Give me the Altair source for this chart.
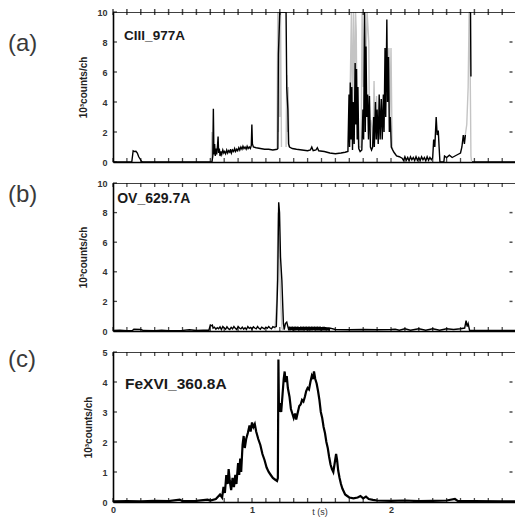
import altair as alt
import pandas as pd

XMAX = 2.892
W = 402
FONT = "Liberation Sans"

# ---------------- (a) CIII_977A ----------------
a_blk1_t = [0, 0.135, 0.145, 0.155, 0.165, 0.175, 0.185, 0.195, 0.205, 0.215, 0.70, 0.712, 0.718, 0.722,
            0.726, 0.731, 0.736, 0.741, 0.746, 0.752, 0.756, 0.760, 0.765, 0.770, 0.776, 0.782, 0.790,
            0.797, 0.803, 0.810, 0.818, 0.825, 0.832, 0.840, 0.846, 0.852, 0.860, 0.868, 0.875, 0.882,
            0.890, 0.897, 0.905, 0.912, 0.920, 0.928, 0.935, 0.942, 0.950, 0.958, 0.965, 0.972, 0.980,
            0.988, 0.995, 0.999, 1.003, 1.01, 1.03, 1.06, 1.09, 1.12, 1.15, 1.18, 1.186, 1.19, 1.20, 1.245,
            1.25, 1.258, 1.263, 1.27, 1.29, 1.32, 1.36, 1.40, 1.42, 1.43, 1.44, 1.46, 1.47, 1.48, 1.52,
            1.56, 1.60, 1.64, 1.67, 1.690, 1.698, 1.702, 1.707, 1.712, 1.718, 1.723, 1.728, 1.735, 1.742,
            1.747, 1.752, 1.757, 1.762, 1.768, 1.778, 1.790, 1.798, 1.803, 1.810, 1.815, 1.820, 1.826,
            1.832, 1.838, 1.845, 1.852, 1.860, 1.868, 1.875, 1.880, 1.888, 1.894, 1.900, 1.908, 1.915,
            1.922, 1.930, 1.937, 1.945, 1.950, 1.957, 1.962, 1.970, 1.975, 1.982, 1.988, 1.995, 2.002,
            2.012, 2.025, 2.040, 2.060, 2.080, 2.09, 2.10, 2.11, 2.12, 2.13, 2.14, 2.15, 2.16, 2.17, 2.18,
            2.19, 2.20, 2.21, 2.22, 2.23, 2.24, 2.25, 2.26, 2.27, 2.28, 2.29, 2.30, 2.307, 2.315, 2.325,
            2.332, 2.340, 2.346, 2.352, 2.38, 2.385, 2.40, 2.42, 2.44, 2.46, 2.48, 2.50, 2.51, 2.52, 2.528,
            2.535]
a_blk1_v = [0, 0, 0.75, 0.7, 0.72, 0.6, 0.35, 0.2, 0.05, 0, 0, 0.0, 0.4, 3.55,
            0.5, 1.2, 0.4, 0.9, 0.5, 1.1, 1.7, 0.6, 0.9, 0.4, 0.7, 0.5, 0.8,
            0.6, 0.7, 0.55, 0.8, 0.6, 0.75, 0.65, 0.85, 0.6, 0.8, 0.7, 0.9, 0.7,
            0.85, 0.75, 0.95, 0.8, 1.0, 0.85, 1.05, 0.9, 1.0, 0.85, 1.05, 0.9, 1.0,
            0.9, 1.1, 2.5, 1.2, 1.0, 0.95, 0.9, 0.85, 0.85, 0.8, 0.85, 0.9, 7.2, 10, 10,
            4.9, 3.5, 1.2, 1.0, 0.9, 0.85, 0.8, 0.75, 0.8, 1.0, 0.75, 0.8, 0.95, 0.75, 0.7,
            0.6, 0.55, 0.6, 0.65, 0.7, 4.5, 1.0, 5.3, 1.5, 5.0, 0.8, 4.0, 1.2, 6.6,
            2.5, 6.2, 1.5, 5.0, 0.9, 0.7, 0.8, 3.5, 1.5, 10, 2.0, 7.7, 3.0,
            4.5, 1.5, 4.4, 1.0, 0.8, 1.0, 3.0, 1.0, 4.0, 1.5, 3.5, 1.2, 4.5,
            1.5, 4.2, 1.5, 4.5, 2.0, 7.6, 3.0, 9.5, 4.0, 7.0, 2.0, 3.0, 1.0,
            0.8, 0.6, 0.4, 0.35, 0.25, 0.1, 0.35, 0.12, 0.3, 0.08, 0.35, 0.15, 0.3, 0.1, 0.35,
            0.12, 0.3, 0.1, 0.35, 0.15, 0.3, 0.08, 0.35, 0.12, 0.3, 0.15, 0.3, 1.5, 1.0, 3.0,
            1.8, 2.1, 1.0, 0.0, 0.0, 0.4, 0.3, 0.45, 0.3, 0.4, 0.5, 0.6, 1.0, 1.8, 1.2,
            1.8]
a_blk2_t = [2.562, 2.572, 2.575]
a_blk2_v = [10, 10, 5.7]
a_blk3_t = [2.582, 2.892]
a_blk3_v = [0, 0]

a_gry1_t = [0.706, 0.712, 0.716]
a_gry1_v = [0.0, 2.0, 0.3]
a_gry2_t = [1.18, 1.185, 1.19, 1.195, 1.20, 1.205, 1.212]
a_gry2_v = [0.9, 10, 2.0, 10, 3.0, 10, 1.0]
a_gry3_t = [1.245, 1.25, 1.255, 1.26, 1.266]
a_gry3_v = [1.0, 5.8, 2.0, 5.0, 1.0]
a_gry4_t = [1.700, 1.715, 1.722, 1.730, 1.738, 1.745, 1.750, 1.755, 1.765, 1.785, 1.792, 1.800, 1.808,
            1.818, 1.828, 1.840, 1.845, 1.855, 1.862, 1.870, 1.878, 1.885, 1.896, 1.905, 1.930, 1.955,
            1.965, 1.985, 1.992, 2.000, 2.008, 2.020]
a_gry4_v = [1.0, 10, 3.0, 10, 4.0, 10, 8.7, 3.0, 1.0, 1.0, 10, 5.0, 10,
            6.0, 10, 8.0, 2.3, 2.8, 2.3, 1.0, 5.4, 2.0, 4.4, 1.5, 2.5, 3.5,
            5.0, 7.6, 3.0, 7.6, 1.0, 0.6]
a_gry5_t = [2.53, 2.545, 2.555, 2.562, 2.570, 2.575, 2.580]
a_gry5_v = [1.5, 2.5, 5.0, 10, 5.7, 0.4, 0.0]

# ---------------- (b) OV_629.7A ----------------
b_blk_t = [0, 0.05, 0.10, 0.14, 0.15, 0.20, 0.22, 0.30, 0.35, 0.40, 0.50, 0.55, 0.60, 0.65, 0.69, 0.70,
           0.705, 0.715, 0.72, 0.73, 0.74, 0.75, 0.76, 0.77, 0.78, 0.79, 0.80, 0.81, 0.82, 0.83, 0.84,
           0.85, 0.86, 0.87, 0.88, 0.89, 0.90, 0.91, 0.92, 0.93, 0.94, 0.95, 0.96, 0.97, 0.98, 0.99,
           1.00, 1.01, 1.02, 1.03, 1.04, 1.05, 1.06, 1.07, 1.08, 1.09, 1.10, 1.11, 1.12, 1.13, 1.14,
           1.15, 1.16, 1.175, 1.185, 1.192, 1.198, 1.205, 1.215, 1.222, 1.226, 1.232, 1.24, 1.25, 1.258,
           1.265, 1.270, 1.275, 1.280, 1.285, 1.290, 1.295, 1.300, 1.305, 1.310, 1.315, 1.320, 1.325,
           1.330, 1.335, 1.340, 1.345, 1.350, 1.355, 1.360, 1.365, 1.370, 1.375, 1.380, 1.385, 1.390,
           1.395, 1.400, 1.405, 1.410, 1.415, 1.420, 1.425, 1.430, 1.435, 1.440, 1.445, 1.450, 1.455,
           1.460, 1.465, 1.470, 1.475, 1.480, 1.485, 1.490, 1.495, 1.500, 1.505, 1.510, 1.515, 1.520,
           1.525, 1.530, 1.535, 1.540, 1.545, 1.550, 1.555, 1.560, 1.60, 1.70, 1.80, 1.90, 2.00, 2.03,
           2.06, 2.10, 2.14, 2.20, 2.25, 2.30, 2.35, 2.40, 2.45, 2.50, 2.53, 2.54, 2.548, 2.555, 2.565,
           2.70, 2.892]
b_blk_v = [0.03, 0.05, 0.02, 0.03, 0.12, 0.10, 0.03, 0.02, 0.06, 0.02, 0.04, 0.08, 0.03, 0.05, 0.05, 0.4,
           0.35, 0.4, 0.2, 0.26, 0.12, 0.22, 0.15, 0.28, 0.1, 0.3, 0.2, 0.12, 0.28, 0.16, 0.1,
           0.25, 0.15, 0.3, 0.18, 0.1, 0.3, 0.2, 0.14, 0.26, 0.12, 0.22, 0.1, 0.3, 0.18, 0.24,
           0.12, 0.28, 0.2, 0.15, 0.3, 0.18, 0.12, 0.26, 0.2, 0.14, 0.25, 0.18, 0.3, 0.2, 0.15,
           0.3, 0.25, 0.3, 3.5, 8.7, 8.0, 5.0, 3.4, 1.5, 0.5, 0.1, 0.5, 0.6, 0.3,
           0.05, 0.3, 0.04, 0.28, 0.06, 0.3, 0.03, 0.27, 0.05, 0.3, 0.04, 0.28, 0.06,
           0.3, 0.03, 0.26, 0.05, 0.3, 0.04, 0.28, 0.05, 0.3, 0.03, 0.27, 0.06, 0.3,
           0.04, 0.28, 0.05, 0.3, 0.03, 0.27, 0.05, 0.3, 0.04, 0.28, 0.06, 0.3, 0.03,
           0.27, 0.05, 0.3, 0.04, 0.28, 0.05, 0.3, 0.03, 0.26, 0.05, 0.28, 0.04, 0.27,
           0.05, 0.26, 0.03, 0.25, 0.05, 0.24, 0.04, 0.2, 0.1, 0.08, 0.1, 0.08, 0.1, 0.12,
           0.05, 0.15, 0.05, 0.15, 0.05, 0.15, 0.05, 0.15, 0.1, 0.15, 0.2, 0.7, 0.3, 0.5, 0.05,
           0.04, 0.03]
b_gry_t = [1.165, 1.178, 1.188, 1.195, 1.205, 1.215, 1.225, 1.235]
b_gry_v = [0.1, 2.0, 8.0, 6.0, 2.5, 0.2, 0.0, 0.3]

# ---------------- (c) FeXVI_360.8A ----------------
c_blk_t = [0.0, 0.1, 0.2, 0.3, 0.4, 0.48, 0.5, 0.6, 0.68, 0.70, 0.74, 0.77, 0.785, 0.795, 0.805, 0.815,
           0.825, 0.832, 0.84, 0.85, 0.86, 0.87, 0.88, 0.888, 0.90, 0.908, 0.915, 0.922, 0.932, 0.94,
           0.948, 0.958, 0.97, 0.982, 0.99, 1.00, 1.01, 1.02, 1.03, 1.045, 1.06, 1.075, 1.09, 1.105, 1.12,
           1.135, 1.15, 1.165, 1.18, 1.186, 1.19, 1.194, 1.20, 1.21, 1.22, 1.228, 1.235, 1.242, 1.25,
           1.258, 1.27, 1.28, 1.29, 1.30, 1.31, 1.318, 1.33, 1.34, 1.35, 1.36, 1.37, 1.38, 1.39, 1.40,
           1.41, 1.42, 1.43, 1.438, 1.446, 1.455, 1.465, 1.475, 1.485, 1.495, 1.505, 1.515, 1.525, 1.535,
           1.545, 1.555, 1.565, 1.575, 1.585, 1.595, 1.605, 1.612, 1.62, 1.63, 1.64, 1.65, 1.66, 1.67,
           1.685, 1.70, 1.73, 1.76, 1.78, 1.80, 1.82, 1.84, 1.87, 1.90, 2.00, 2.10, 2.20, 2.30, 2.40,
           2.46, 2.48, 2.60, 2.80, 2.892]
c_blk_v = [0.02, 0.03, 0.02, 0.04, 0.03, 0.08, 0.03, 0.04, 0.08, 0.05, 0.1, 0.25, 0.15, 0.5, 0.3, 0.9,
           0.6, 1.1, 0.7, 0.4, 0.8, 0.5, 0.9, 0.6, 1.3, 0.9, 1.45, 1.0, 1.9, 2.2,
           1.8, 2.1, 2.3, 2.55, 2.35, 2.65, 2.5, 2.6, 2.35, 2.1, 1.9, 1.6, 1.4, 1.15, 1.0,
           0.9, 0.8, 0.75, 0.7, 0.8, 4.75, 3.0, 3.3, 3.0, 3.6, 4.1, 4.35, 4.0, 4.2,
           3.8, 3.5, 3.1, 2.95, 2.8, 2.95, 2.75, 3.0, 3.2, 3.25, 3.4, 3.35, 3.5, 3.7, 3.8,
           3.75, 4.0, 4.2, 4.1, 4.35, 4.1, 3.95, 3.7, 3.4, 3.0, 2.8, 2.5, 2.3, 2.0,
           1.8, 1.5, 1.25, 1.1, 1.0, 1.3, 1.6, 1.4, 1.05, 0.8, 0.6, 0.45, 0.35, 0.25,
           0.2, 0.15, 0.12, 0.15, 0.2, 0.12, 0.18, 0.1, 0.07, 0.05, 0.04, 0.05, 0.03, 0.04, 0.05,
           0.1, 0.04, 0.03, 0.02, 0.02]

minor_t = [round(i * 0.1, 1) for i in range(29)]


def segs(*pairs):
    rows = []
    for k, (ts, vs) in enumerate(pairs):
        for t, v in zip(ts, vs):
            rows.append({"t": t, "v": v, "seg": k})
    return pd.DataFrame(rows)


def panel(black, grey, ymax, yvals, name, name_t, name_v, name_size, letter, letter_y, height, last,
          cross_top, lw):
    xs = alt.Scale(domain=[0, XMAX], nice=False, zero=False)
    ys = alt.Scale(domain=[0, ymax], nice=False)
    if last:
        xax = alt.Axis(values=[0, 1, 2], ticks=False, tickSize=0, grid=False, domainWidth=1.6,
                       domainColor="black", labelPadding=3, labelFontSize=9, labelFontWeight="bold",
                       labelColor="#333", title=None, labelFlush=False)
    else:
        xax = alt.Axis(values=[0, 1, 2], ticks=False, tickSize=0, grid=False, domainWidth=1.6,
                       domainColor="black", labels=False, title=None)
    yax = alt.Axis(values=yvals, ticks=False, tickSize=0, grid=False, domainWidth=1.6, domainColor="black",
                   labelPadding=6, labelFontSize=9, labelFontWeight="bold", labelColor="#333",
                   title="10³counts/ch", titleFontSize=10, titleFontWeight="bold", titleColor="#222",
                   titlePadding=8)
    X = alt.X("t:Q", scale=xs, axis=xax)
    Y = alt.Y("v:Q", scale=ys, axis=yax)

    grey_l = alt.Chart(grey).mark_line(color="#c4c4c4", strokeWidth=1.4, clip=True).encode(
        x=X, y=Y, detail="seg:N", order="t:Q")
    black_l = alt.Chart(black).mark_line(color="black", strokeWidth=lw, clip=True).encode(
        x=X, y=Y, detail="seg:N", order="t:Q")
    top = alt.Chart(pd.DataFrame({"t": [0, XMAX], "v": [ymax, ymax]})).mark_line(
        color="black", strokeWidth=1.6, clip=True).encode(x=X, y=Y)

    bt = alt.Chart(pd.DataFrame({"t": minor_t, "v": [0] * len(minor_t)})).mark_tick(
        orient="vertical", size=4, thickness=1.3, color="black", yOffset=-2).encode(x=X, y=Y)
    if cross_top:
        tt = alt.Chart(pd.DataFrame({"t": minor_t, "v": [ymax] * len(minor_t)})).mark_tick(
            orient="vertical", size=6, thickness=1.5, color="black").encode(x=X, y=Y)
    else:
        tt = alt.Chart(pd.DataFrame({"t": minor_t, "v": [ymax] * len(minor_t)})).mark_tick(
            orient="vertical", size=4, thickness=1.3, color="black", yOffset=2).encode(x=X, y=Y)
    lt = alt.Chart(pd.DataFrame({"t": [0] * len(yvals), "v": yvals})).mark_tick(
        orient="horizontal", size=4, thickness=1.3, color="black", xOffset=2).encode(x=X, y=Y)
    inner = yvals[1:-1]
    rt = alt.Chart(pd.DataFrame({"t": [XMAX] * len(inner), "v": inner})).mark_tick(
        orient="horizontal", size=3, thickness=1.5, color="black", xOffset=-4).encode(x=X, y=Y)

    lab = alt.Chart(pd.DataFrame({"t": [name_t], "v": [name_v], "s": [name]})).mark_text(
        align="left", baseline="middle", fontSize=name_size, fontWeight="bold", font=FONT,
        color="#1a1a1a").encode(x=X, y=Y, text="s:N")
    let = alt.Chart(pd.DataFrame({"s": [letter]})).mark_text(
        align="left", baseline="middle", fontSize=24, font=FONT, color="#3a3a3a").encode(
        x=alt.value(-105), y=alt.value(letter_y), text="s:N")

    layers = [grey_l, black_l, top, bt, tt, lt, rt, lab, let]
    if last:
        xt = alt.Chart(pd.DataFrame({"s": ["t (s)"]})).mark_text(
            align="center", baseline="middle", fontSize=9, font=FONT, color="#333").encode(
            x=alt.value(207), y=alt.value(height + 10), text="s:N")
        layers.append(xt)
    return alt.layer(*layers).properties(width=W, height=height)


pa = panel(segs((a_blk1_t, a_blk1_v), (a_blk2_t, a_blk2_v), (a_blk3_t, a_blk3_v)),
           segs((a_gry1_t, a_gry1_v), (a_gry2_t, a_gry2_v), (a_gry3_t, a_gry3_v),
                (a_gry4_t, a_gry4_v), (a_gry5_t, a_gry5_v)),
           10, [0, 2, 4, 6, 8, 10], "CIII_977A", 0.08, 8.37, 13.5, "(a)", 31.5, 150, False, True, 1.4)
pb = panel(segs((b_blk_t, b_blk_v)), segs((b_gry_t, b_gry_v)),
           10, [0, 2, 4, 6, 8, 10], "OV_629.7A", 0.03, 8.95, 14, "(b)", 12, 148, False, False, 1.4)
pc = panel(segs((c_blk_t, c_blk_v)), segs(([0.0], [0.0])),
           5, [0, 1, 2, 3, 4, 5], "FeXVI_360.8A", 0.086, 3.92, 15.5, "(c)", 8, 150, True, False, 2.2)

chart = alt.vconcat(pa, pb, pc, spacing=21, bounds="flush").configure_view(stroke=None).configure_axis(
    labelFont=FONT, titleFont=FONT).properties(background="white", padding=0)

chart.save("out.html", embed_options={"renderer": "svg", "actions": False})
